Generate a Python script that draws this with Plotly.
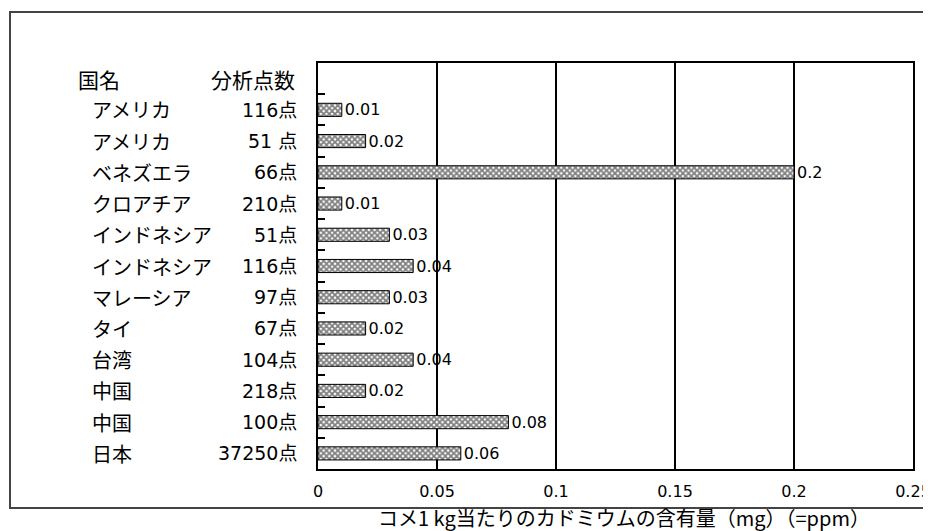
import plotly.graph_objects as go

countries = ["アメリカ", "アメリカ", "ベネズエラ", "クロアチア", "インドネシア", "インドネシア",
             "マレーシア", "タイ", "台湾", "中国", "中国", "日本"]
counts = ["116点", "51 点", "66点", "210点", "51点", "116点",
          "97点", "67点", "104点", "218点", "100点", "37250点"]
values = [0.01, 0.02, 0.2, 0.01, 0.03, 0.04, 0.03, 0.02, 0.04, 0.02, 0.08, 0.06]
header_country = "国名"
header_count = "分析点数"
x_title = "コメ1 kg当たりのカドミウムの含有量（mg）（=ppm）"
x_ticks = [0, 0.05, 0.1, 0.15, 0.2, 0.25]

JP = "Noto Sans CJK JP, sans-serif"
NUM = "DejaVu Sans, Noto Sans CJK JP, sans-serif"

# page has an 8px body margin; build the figure in reference pixels shifted by it
OFF = 8
W, H = 931 - OFF, 531 - OFF
PL, PR, PT, PB = 318, 913, 63, 469          # plot area in reference pixels
L, T = PL - OFF, PT - OFF
R, B = W - (PR - OFF), H - (PB - OFF)
PW, PH = PR - PL, PB - PT

def px_x(p):
    return (p - PL) / PW

def px_y(p):
    return (PB - p) / PH

rows = list(range(1, len(countries) + 1))

fig = go.Figure()
fig.add_trace(go.Bar(
    x=values, y=rows, orientation="h", width=0.42,
    marker=dict(color="white", line=dict(color="black", width=1),
                pattern=dict(shape="x", fgcolor="black", bgcolor="white", size=4, solidity=0.7)),
    texttemplate="%{x}", textposition="outside", cliponaxis=False, constraintext="none",
    textfont=dict(family=NUM, size=16, color="black"),
    hoverinfo="skip",
))

ann = []
ann.append(dict(text=header_country, x=px_x(76), y=0, xref="paper", yref="y",
                xanchor="left", yanchor="middle", showarrow=False,
                font=dict(family=JP, size=21, color="black")))
ann.append(dict(text=header_count, x=px_x(297), y=0, xref="paper", yref="y",
                xanchor="right", yanchor="middle", showarrow=False,
                font=dict(family=JP, size=21, color="black")))
for r, c, n in zip(rows, countries, counts):
    ann.append(dict(text=c, x=px_x(90), y=r, xref="paper", yref="y",
                    xanchor="left", yanchor="middle", showarrow=False,
                    font=dict(family=JP, size=20, color="black")))
    ann.append(dict(text=n, x=px_x(299), y=r, xref="paper", yref="y",
                    xanchor="right", yanchor="middle", showarrow=False,
                    font=dict(family=NUM, size=19, color="black")))
ann.append(dict(text=x_title, x=px_x(624), y=px_y(517), xref="paper", yref="paper",
                xanchor="center", yanchor="middle", showarrow=False,
                font=dict(family=JP, size=20, color="black")))

fig.update_layout(
    width=W, height=H,
    margin=dict(l=L, r=R, t=T, b=B, autoexpand=False),
    paper_bgcolor="white", plot_bgcolor="white",
    showlegend=False,
    annotations=ann,
    shapes=[dict(type="rect", xref="paper", yref="paper",
                 x0=px_x(10), x1=px_x(945), y0=px_y(508), y1=px_y(12),
                 line=dict(color="#444444", width=2), layer="below")],
    xaxis=dict(range=[0, 0.25], tickvals=x_ticks, ticktext=[str(v) for v in x_ticks],
               showgrid=True, gridcolor="black", gridwidth=1.5,
               showline=True, linecolor="black", linewidth=1.5, mirror=True,
               ticks="", ticklabelstandoff=7, ticklabeloverflow="allow", zeroline=False,
               automargin=False,
               tickfont=dict(family=NUM, size=16, color="black"), fixedrange=True),
    yaxis=dict(range=[len(countries) + 0.5, -0.5],
               tickvals=[r - 0.5 for r in rows], showticklabels=False,
               ticks="inside", ticklen=7, tickcolor="black", tickwidth=1.5,
               showgrid=False, zeroline=False, automargin=False,
               showline=True, linecolor="black", linewidth=1.5, mirror=True, fixedrange=True),
)

fig.write_html("out.html")
